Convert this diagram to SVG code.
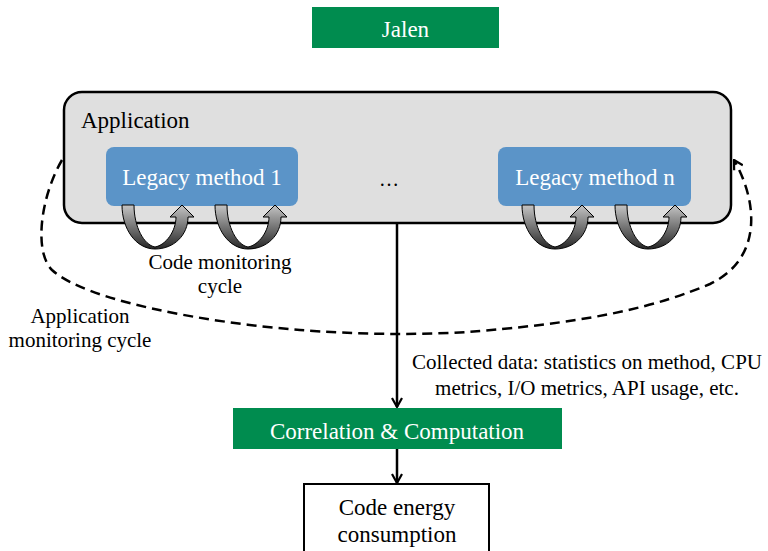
<svg xmlns="http://www.w3.org/2000/svg" width="768" height="551" viewBox="0 0 768 551">
<style>
text { font-family: "Liberation Serif", "Times New Roman", serif; }
.big { font-size: 23px; }
.lbl { font-size: 21px; fill: #000; }
.white { fill: #fff; }
.green { fill: #008C4F; }
.method { fill: #5B94C8; }
.line { stroke: #000; stroke-width: 2.5; fill: none; }
.dash { stroke: #000; stroke-width: 2.5; fill: none; stroke-dasharray: 10 6; }
.uarrow { fill: url(#ugrad); stroke: #000; stroke-width: 1; }
</style>
<defs>
<linearGradient id="ugrad" x1="0" y1="0" x2="0" y2="1">
<stop offset="0" stop-color="#c4c4c4"/>
<stop offset="1" stop-color="#262626"/>
</linearGradient>
<marker id="open" viewBox="0 0 12 12" refX="11" refY="6" markerWidth="12" markerHeight="12" markerUnits="userSpaceOnUse" orient="auto">
<path d="M2,1 L11,6 L2,11" fill="none" stroke="#000" stroke-width="2.2"/>
</marker>
<path id="u" class="uarrow" d="M0,0 L12,0 C12,22 22,40 33,42 C44,40 54,26 54,12 L48,12 L60,0 L72,12 L66,12 C66,30 52,44 33,44 C14,44 0,24 0,0 Z"/>
</defs>

<g id="jalen">
<rect class="green" x="312" y="7" width="187" height="41"/>
<text class="big white" x="405.5" y="37" text-anchor="middle">Jalen</text>
</g>

<g id="application">
<rect x="64" y="92" width="667" height="131" rx="18" ry="18" fill="#DFDFDF" stroke="#000" stroke-width="2.5"/>
<text class="big" x="81" y="128">Application</text>
<text x="389" y="186" text-anchor="middle" font-size="20">…</text>
</g>

<g id="legacy1">
<rect class="method" x="106" y="147" width="192" height="59" rx="8" ry="8"/>
<text class="big white" x="202" y="185" text-anchor="middle">Legacy method 1</text>
</g>

<g id="legacyn">
<rect class="method" x="498" y="147" width="193" height="59" rx="8" ry="8"/>
<text class="big white" x="595" y="185" text-anchor="middle">Legacy method n</text>
</g>

<g id="code-cycles">
<use href="#u" x="122" y="205"/>
<use href="#u" x="215" y="205"/>
<use href="#u" x="522" y="205"/>
<use href="#u" x="615" y="205"/>
</g>

<g id="connectors">
<path class="dash" marker-end="url(#open)" d="M62,160 C40,198 34,252 52,270 C85,300 200,322 300,330 C350,334 420,336 480,331 C600,321 660,305 710,284 C764,258 757,200 734,160"/>
<line class="line" x1="397" y1="223" x2="397" y2="407" marker-end="url(#open)"/>
<line class="line" x1="397" y1="449" x2="397" y2="483" marker-end="url(#open)"/>
</g>

<g id="labels">
<text class="lbl" x="220" y="269" text-anchor="middle">Code monitoring</text>
<text class="lbl" x="220" y="293" text-anchor="middle">cycle</text>
<text class="lbl" x="80" y="323" text-anchor="middle">Application</text>
<text class="lbl" x="80" y="347" text-anchor="middle">monitoring cycle</text>
<text class="lbl" x="587" y="369" text-anchor="middle">Collected data: statistics on method, CPU</text>
<text class="lbl" x="587" y="395" text-anchor="middle">metrics, I/O metrics, API usage, etc.</text>
</g>

<g id="correlation">
<rect class="green" x="233" y="408" width="329" height="41"/>
<text class="big white" x="397" y="439" text-anchor="middle">Correlation &amp; Computation</text>
</g>

<g id="energy">
<rect x="304" y="484" width="185" height="80" fill="#fff" stroke="#000" stroke-width="2"/>
<text class="big" x="397" y="515" text-anchor="middle">Code energy</text>
<text class="big" x="397" y="542" text-anchor="middle">consumption</text>
</g>
</svg>
